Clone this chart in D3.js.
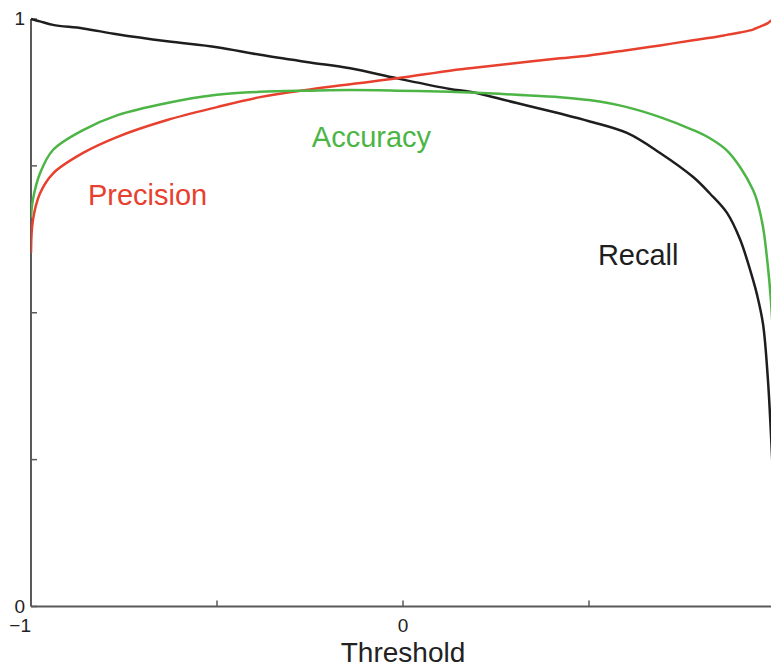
<!DOCTYPE html>
<html>
<head>
<meta charset="utf-8">
<script src="https://cdn.jsdelivr.net/npm/d3@7"></script>
<style>
  html, body { margin: 0; padding: 0; background: #fff; }
  svg { display: block; }
  text { font-family: "Liberation Sans", Arial, Helvetica, sans-serif; }
</style>
</head>
<body>
<svg id="chart" width="771" height="669"></svg>
<script>
// ---- data ----
const thresholds = [-1, -0.995, -0.976, -0.941, -0.86, -0.769, -0.634, -0.5, -0.384, -0.25, -0.142, -0.016, 0.126, 0.18, 0.306, 0.422, 0.5, 0.602, 0.691, 0.78, 0.825, 0.871, 0.906, 0.941, 0.952, 0.968, 0.981, 0.989, 1.0];
const recall    = [1.0, 0.999, 0.996, 0.99, 0.984, 0.974, 0.962, 0.952, 0.939, 0.926, 0.916, 0.899, 0.881, 0.876, 0.857, 0.839, 0.826, 0.806, 0.772, 0.731, 0.703, 0.670, 0.625, 0.556, 0.53, 0.48, 0.386, 0.295, 0.15];
const precision = [0.602, 0.657, 0.703, 0.737, 0.772, 0.799, 0.828, 0.850, 0.867, 0.880, 0.889, 0.899, 0.912, 0.916, 0.925, 0.933, 0.938, 0.947, 0.955, 0.964, 0.968, 0.973, 0.977, 0.982, 0.985, 0.989, 0.993, 0.997, 1.0];
const accuracy  = [0.662, 0.692, 0.737, 0.777, 0.811, 0.836, 0.857, 0.871, 0.876, 0.878, 0.879, 0.878, 0.876, 0.875, 0.871, 0.867, 0.862, 0.850, 0.833, 0.811, 0.797, 0.776, 0.748, 0.709, 0.69, 0.645, 0.578, 0.521, 0.4];
const seriesNames = ["Recall", "Precision", "Accuracy"];
const seriesColors = ["#1e1e1e", "#e8402e", "#4cb545"];
const xTicks = [-1, -0.5, 0, 0.5, 1];
const xTickLabels = ["\u22121", "", "0", "", "1"];
const yTicks = [0, 0.25, 0.5, 0.75, 1];
const yTickLabels = ["0", "", "", "", "1"];
const xTitle = "Threshold";
// label anchor positions in data space (left edge, baseline)
const labelPos = [[0.524, 0.581], [-0.847, 0.683], [-0.245, 0.782]];

const svg = d3.select("#chart");
const x = d3.scaleLinear().domain([-1, 1]).range([31, 775]);
const y = d3.scaleLinear().domain([0, 1]).range([606.5, 19]);

svg.append("defs").append("clipPath").attr("id", "clip")
  .append("rect").attr("x", x(-1)).attr("y", y(1) - 4)
  .attr("width", x(1) - x(-1)).attr("height", y(0) - y(1) + 4);

const axisColor = "#5a5a5a";

// ticks (inward)
const gAx = svg.append("g");
gAx.selectAll(".xt").data(xTicks).join("line")
  .attr("x1", d => x(d)).attr("x2", d => x(d))
  .attr("y1", y(0)).attr("y2", y(0) - 6)
  .attr("stroke", axisColor).attr("stroke-width", 1.5);
gAx.selectAll(".yt").data(yTicks).join("line")
  .attr("x1", x(-1)).attr("x2", x(-1) + 6)
  .attr("y1", d => y(d)).attr("y2", d => y(d))
  .attr("stroke", axisColor).attr("stroke-width", 1.5);
// axis lines
gAx.append("line").attr("x1", x(-1)).attr("x2", x(1)).attr("y1", y(0)).attr("y2", y(0))
  .attr("stroke", axisColor).attr("stroke-width", 2);
gAx.append("line").attr("x1", x(-1)).attr("x2", x(-1)).attr("y1", y(0)).attr("y2", y(1))
  .attr("stroke", axisColor).attr("stroke-width", 2);

// tick labels
gAx.selectAll(".xl").data(xTicks).join("text")
  .attr("x", d => x(d))
  .attr("y", y(0) + 25)
  .attr("text-anchor", (d, i) => i === 0 ? "end" : "middle")
  .attr("font-size", 19).attr("fill", "#222")
  .text((d, i) => xTickLabels[i]);
gAx.selectAll(".yl").data(yTicks).join("text")
  .attr("x", x(-1) - 6)
  .attr("y", d => y(d) + 6)
  .attr("text-anchor", "end")
  .attr("font-size", 19).attr("fill", "#222")
  .text((d, i) => yTickLabels[i]);

svg.append("text").attr("x", x(0)).attr("y", 662)
  .attr("text-anchor", "middle").attr("font-size", 28).attr("fill", "#222")
  .text(xTitle);

// curves
const line = d3.line().x(d => x(d[0])).y(d => y(d[1])).curve(d3.curveCatmullRom.alpha(0.5));
const allSeries = [recall, precision, accuracy];
const gLines = svg.append("g").attr("clip-path", "url(#clip)");
allSeries.forEach((vals, i) => {
  gLines.append("path")
    .datum(thresholds.map((t, j) => [t, vals[j]]))
    .attr("d", line)
    .attr("fill", "none")
    .attr("stroke", seriesColors[i])
    .attr("stroke-width", 2.5)
    .attr("stroke-linejoin", "round");
});

// series labels
svg.selectAll(".sl").data(seriesNames).join("text")
  .attr("x", (d, i) => x(labelPos[i][0]))
  .attr("y", (d, i) => y(labelPos[i][1]))
  .attr("font-size", 29)
  .attr("fill", (d, i) => seriesColors[i])
  .text(d => d);
</script>
</body>
</html>
